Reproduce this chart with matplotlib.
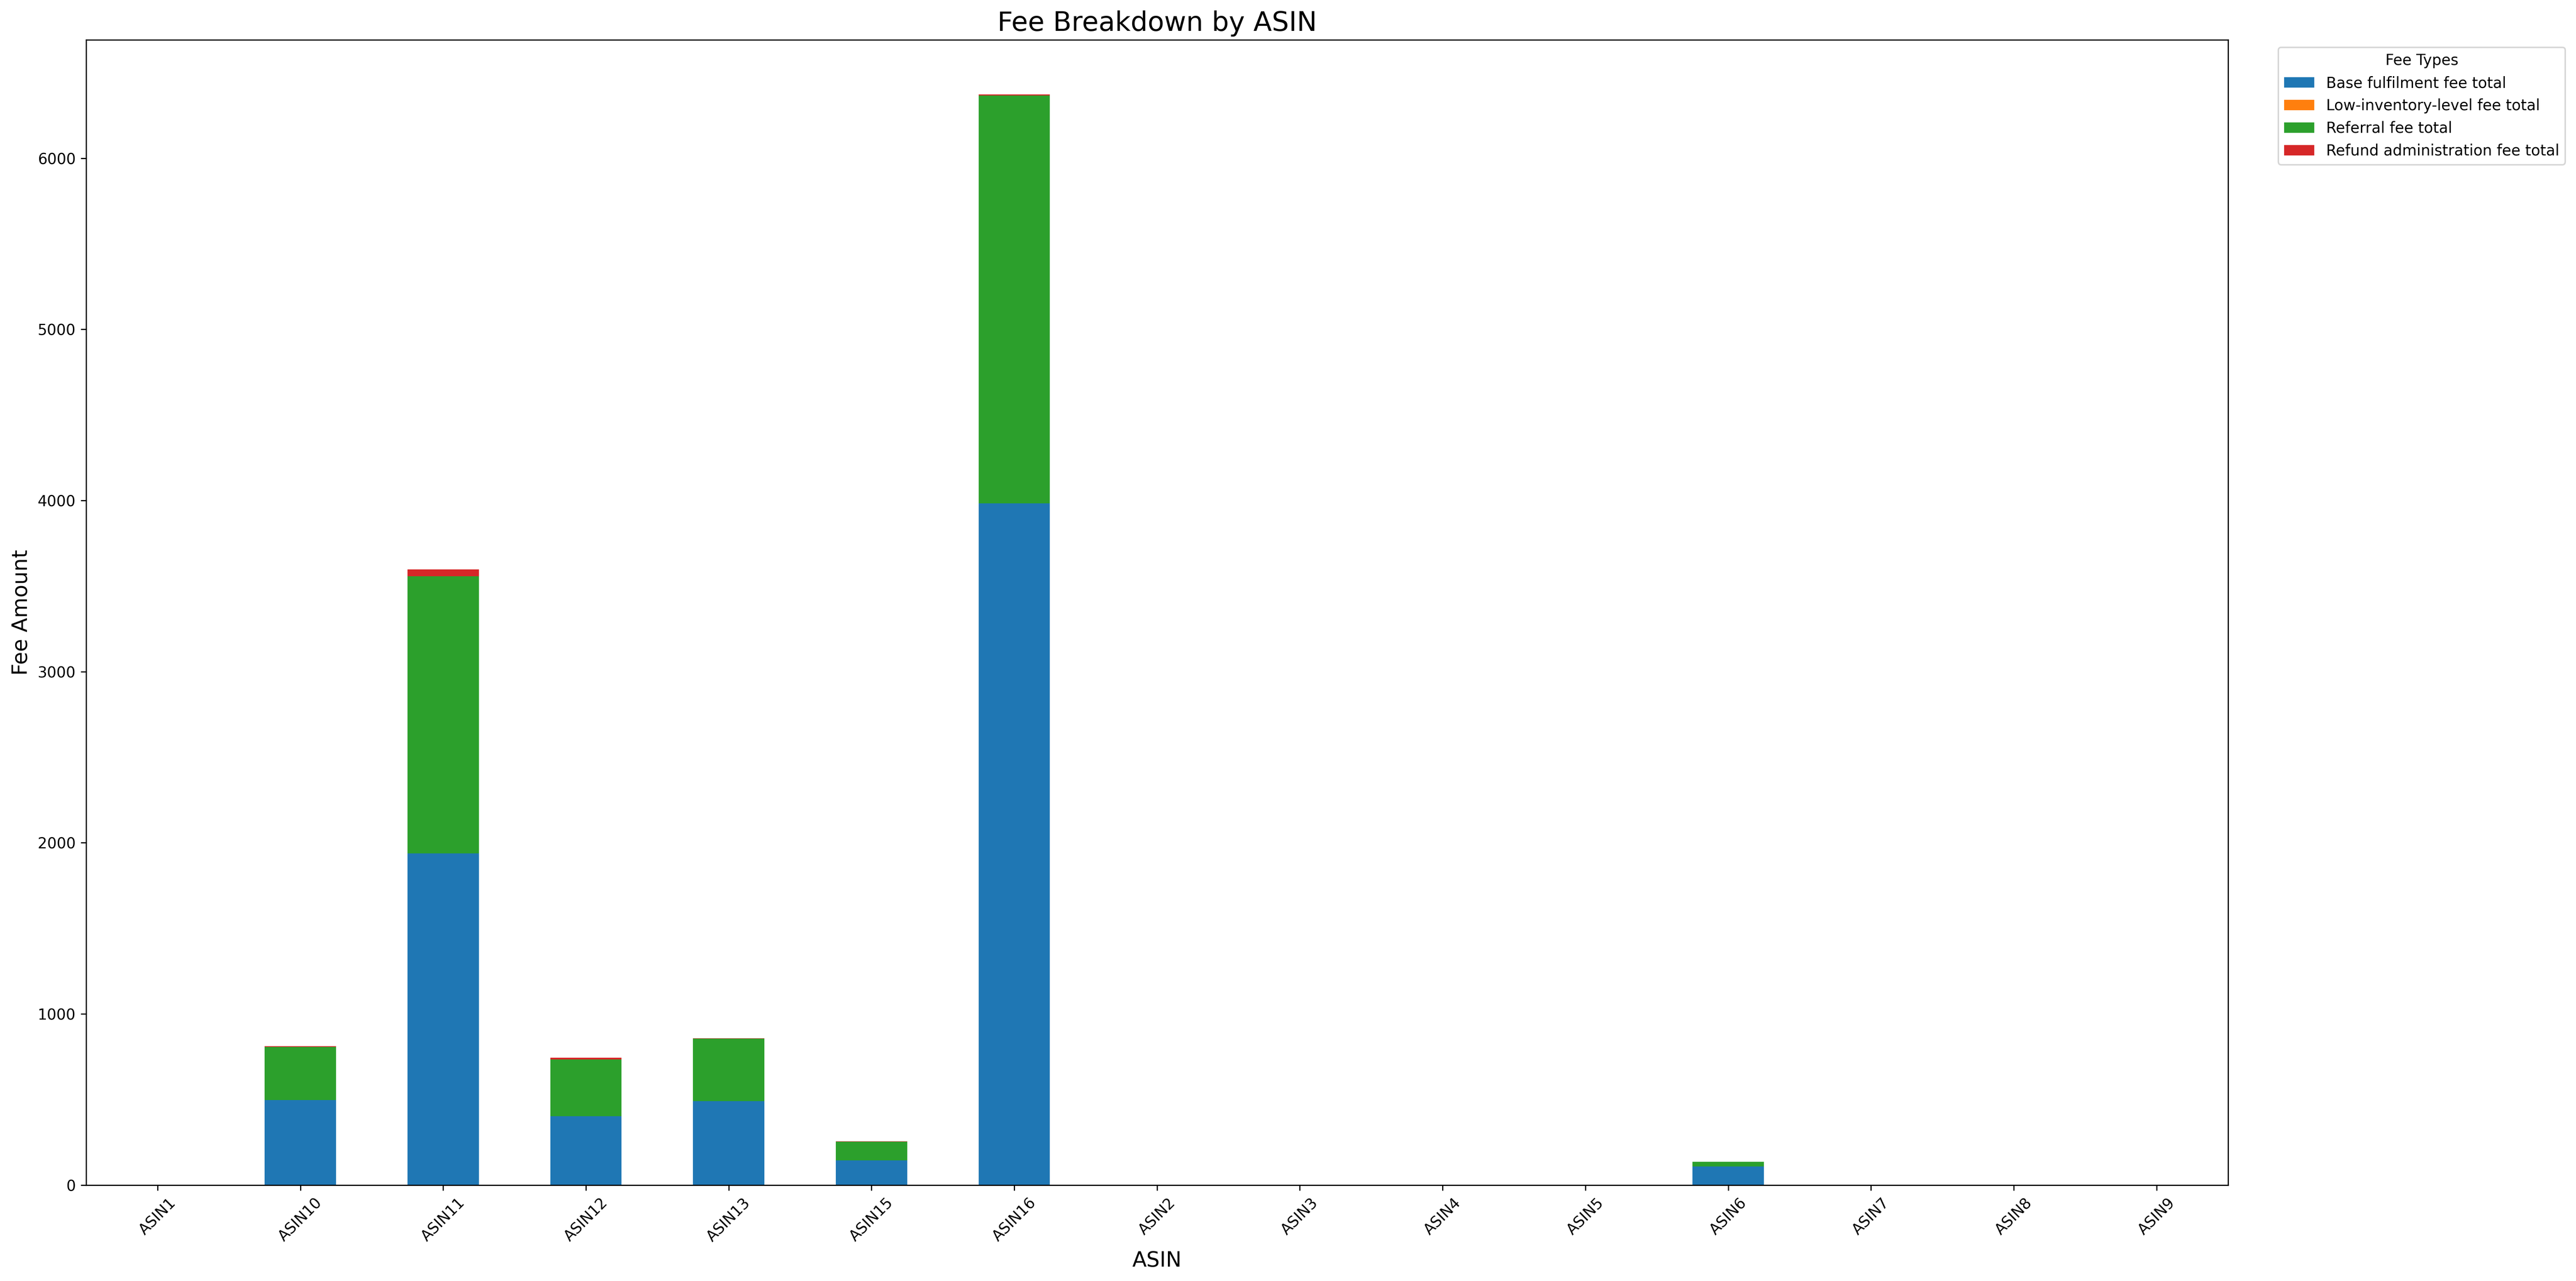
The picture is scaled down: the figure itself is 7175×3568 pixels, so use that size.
import matplotlib
matplotlib.use("Agg")
import matplotlib.pyplot as plt
import numpy as np

asins = ["ASIN1", "ASIN10", "ASIN11", "ASIN12", "ASIN13", "ASIN15", "ASIN16",
         "ASIN2", "ASIN3", "ASIN4", "ASIN5", "ASIN6", "ASIN7", "ASIN8", "ASIN9"]

base_fulfilment = [0, 497, 1938, 401, 490, 143, 3984, 0, 0, 0, 0, 107, 0, 0, 0]
low_inventory = [0, 0, 0, 0, 0, 0, 0, 0, 0, 0, 0, 0, 0, 0, 0]
referral = [0, 310, 1619, 332, 365, 110, 2382, 0, 0, 0, 0, 29, 0, 0, 0]
refund_admin = [0, 4, 40, 11, 2.5, 1.5, 7, 0, 0, 0, 0, 0, 0, 0, 0]

series_names = ["Base fulfilment fee total", "Low-inventory-level fee total",
                "Referral fee total", "Refund administration fee total"]
series_values = [base_fulfilment, low_inventory, referral, refund_admin]
colors = ["#1f77b4", "#ff7f0e", "#2ca02c", "#d62728"]

fig = plt.figure(figsize=(7175 / 300, 3568 / 300), dpi=300)
ax = fig.add_axes([240 / 7175, 1 - 3300.5 / 3568, (6205.5 - 240) / 7175, (3300.5 - 111) / 3568])

x = np.arange(len(asins))
bottom = np.zeros(len(asins))
for name, vals, c in zip(series_names, series_values, colors):
    v = np.array(vals, dtype=float)
    ax.bar(x, v, width=0.5, bottom=bottom, color=c, label=name)
    bottom += v

ax.set_xlim(-0.5, len(asins) - 0.5)
ax.set_ylim(0, bottom.max() * 1.05)
ax.set_xticks(x)
ax.set_xticklabels(asins, rotation=45)
ax.set_title("Fee Breakdown by ASIN", fontsize=18)
ax.set_xlabel("ASIN", fontsize=14)
ax.set_ylabel("Fee Amount", fontsize=14)
ax.legend(title="Fee Types", bbox_to_anchor=(1.02, 1), loc="upper left")

fig.savefig("out.png", dpi=300)
